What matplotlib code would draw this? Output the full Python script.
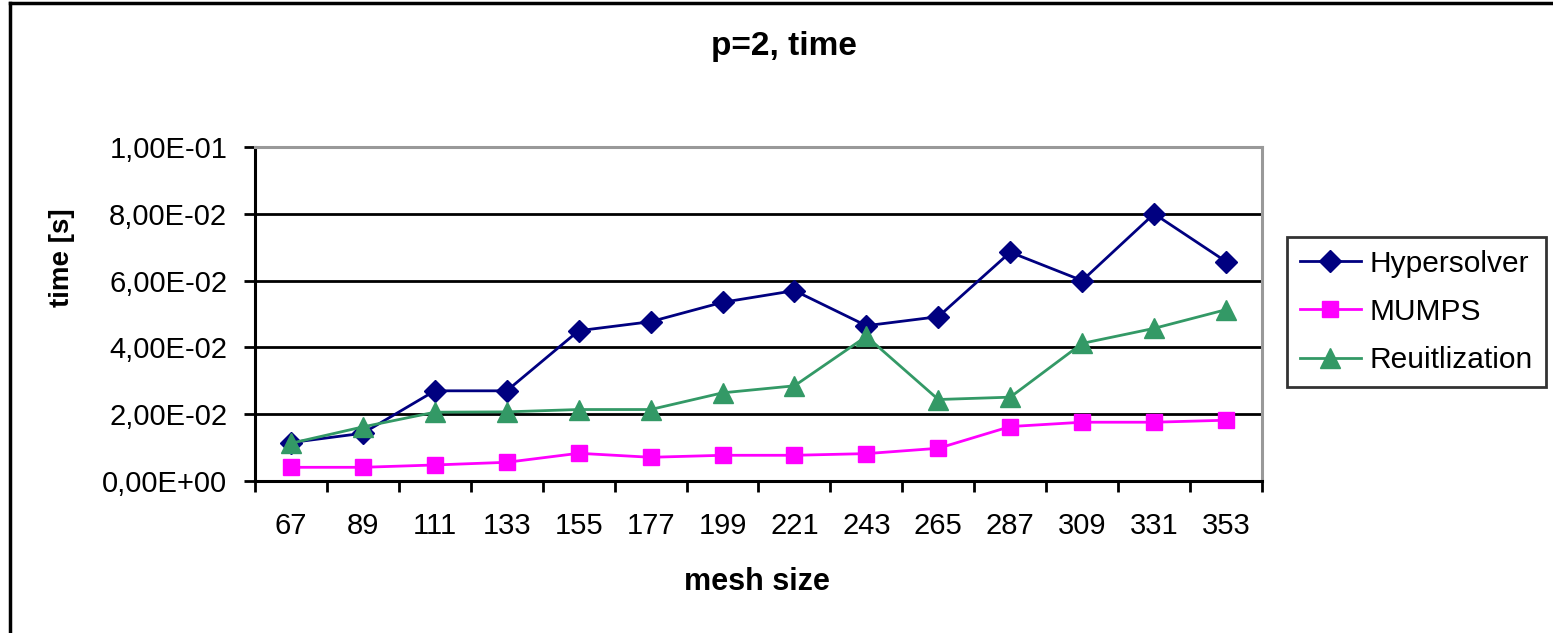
import matplotlib
matplotlib.use("Agg")
import matplotlib.pyplot as plt
from matplotlib.lines import Line2D

plt.rcParams['font.family'] = ['Liberation Sans', 'DejaVu Sans']

mesh_sizes = ["67", "89", "111", "133", "155", "177", "199", "221", "243",
              "265", "287", "309", "331", "353"]
hypersolver = [0.0115, 0.0143, 0.0270, 0.0270, 0.0450, 0.0477, 0.0535,
               0.0570, 0.0465, 0.0492, 0.0685, 0.0600, 0.0800, 0.0657]
mumps = [0.0041, 0.0041, 0.0048, 0.0056, 0.0083, 0.0071, 0.0077,
         0.0077, 0.0082, 0.0098, 0.0163, 0.0176, 0.0176, 0.0182]
reutilization = [0.0113, 0.0162, 0.0206, 0.0207, 0.0214, 0.0214, 0.0264,
                 0.0285, 0.0433, 0.0244, 0.0251, 0.0412, 0.0457, 0.0513]
y_ticks = [0.0, 0.02, 0.04, 0.06, 0.08, 0.10]
y_tick_labels = ["0,00E+00", "2,00E-02", "4,00E-02", "6,00E-02", "8,00E-02", "1,00E-01"]

W, H = 1553, 633
fig = plt.figure(figsize=(W / 100, H / 100), dpi=100)


def fx(px):
    return px / W


def fy(py):
    return 1 - py / H


ax = fig.add_axes([fx(255), fy(481), fx(1262) - fx(255), fy(147) - fy(481)])

x = list(range(len(mesh_sizes)))
ax.plot(x, hypersolver, color='#000080', lw=2.0, marker='D', ms=11.5,
        label='Hypersolver', zorder=3)
ax.plot(x, mumps, color='#FF00FF', lw=2.0, marker='s', ms=11.5,
        label='MUMPS', zorder=3)
ax.plot(x, reutilization, color='#339966', lw=2.0, marker='^', ms=14,
        label='Reuitlization', zorder=3)

ax.set_xlim(-0.5, len(mesh_sizes) - 0.5)
ax.set_ylim(0, 0.10)

# y axis: gridlines and outward ticks
ax.set_yticks(y_ticks)
ax.set_yticklabels(y_tick_labels)
for yv in y_ticks[1:-1]:
    ax.axhline(yv, color='black', lw=2.0, zorder=1)

# x axis: labels at categories, ticks at category boundaries
ax.set_xticks(x)
ax.set_xticklabels(mesh_sizes)
ax.set_xticks([i - 0.5 for i in range(len(mesh_sizes) + 1)], minor=True)
ax.tick_params(axis='x', which='major', length=0, pad=22, labelsize=21)
ax.tick_params(axis='x', which='minor', length=8, width=2.0, direction='out')
ax.tick_params(axis='y', which='major', length=8, width=2.0, direction='out',
               pad=12, labelsize=21)

for side in ['left', 'bottom']:
    ax.spines[side].set_color('black')
    ax.spines[side].set_linewidth(2.2)
for side in ['top', 'right']:
    ax.spines[side].set_color('#999999')
    ax.spines[side].set_linewidth(2.2)

fig.text(fx(784), fy(47), "p=2, time", ha='center', va='center',
         fontsize=24, fontweight='bold')
fig.text(fx(757), fy(582), "mesh size", ha='center', va='center',
         fontsize=22, fontweight='bold')
fig.text(fx(62), fy(258), "time [s]", ha='center', va='center',
         fontsize=20, fontweight='bold', rotation=90)

leg = ax.legend(loc='upper left', bbox_to_anchor=(fx(1287), fy(237)),
                bbox_transform=fig.transFigure, borderaxespad=0,
                fontsize=21.5, frameon=True, fancybox=False, handlelength=2.05,
                handletextpad=0.3, labelspacing=0.68, borderpad=0.42)
leg.get_frame().set_edgecolor('black')
leg.get_frame().set_linewidth(2.0)

# outer chart border
fig.add_artist(Line2D([fx(10), 1], [fy(3), fy(3)], color='black', lw=2.5,
                      transform=fig.transFigure))
fig.add_artist(Line2D([fx(10), fx(10)], [fy(3), 0], color='black', lw=2.5,
                      transform=fig.transFigure))

fig.savefig("out.png", dpi=100)
